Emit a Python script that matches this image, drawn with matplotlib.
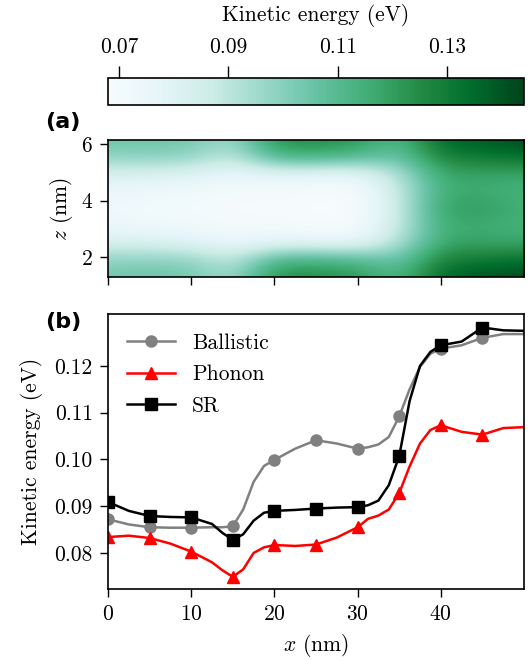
import numpy as np
import matplotlib
matplotlib.use("Agg")
import matplotlib.pyplot as plt

plt.rcParams["font.family"] = "cmr10"
plt.rcParams["mathtext.fontset"] = "cm"
plt.rcParams["axes.formatter.use_mathtext"] = True
plt.rcParams["font.size"] = 15.5
plt.rcParams["xtick.major.size"] = 6
plt.rcParams["ytick.major.size"] = 6
plt.rcParams["xtick.major.width"] = 1.0
plt.rcParams["ytick.major.width"] = 1.0
plt.rcParams["xtick.major.pad"] = 5
plt.rcParams["ytick.major.pad"] = 5

# ---- panel (a): kinetic energy map, columns at x = 0..50 nm, rows z top -> bottom
x_map = [0, 5, 10, 15, 20, 25, 30, 35, 40, 45, 50]
z_map = [6.1, 5.5, 4.9, 4.3, 3.7, 3.1, 2.5, 1.9, 1.3]
ke_map = np.array([
    [0.104, 0.105, 0.104, 0.094, 0.124, 0.125, 0.122, 0.110, 0.136, 0.138, 0.143],
    [0.098, 0.099, 0.098, 0.088, 0.112, 0.113, 0.110, 0.104, 0.128, 0.130, 0.133],
    [0.083, 0.082, 0.080, 0.075, 0.078, 0.077, 0.076, 0.092, 0.118, 0.118, 0.117],
    [0.074, 0.073, 0.072, 0.070, 0.070, 0.069, 0.069, 0.088, 0.116, 0.116, 0.114],
    [0.072, 0.071, 0.070, 0.069, 0.069, 0.068, 0.068, 0.087, 0.120, 0.120, 0.115],
    [0.074, 0.073, 0.072, 0.070, 0.070, 0.069, 0.069, 0.088, 0.116, 0.116, 0.114],
    [0.083, 0.082, 0.080, 0.075, 0.078, 0.077, 0.076, 0.092, 0.118, 0.118, 0.117],
    [0.098, 0.099, 0.098, 0.088, 0.112, 0.113, 0.110, 0.104, 0.128, 0.130, 0.133],
    [0.104, 0.105, 0.104, 0.094, 0.124, 0.125, 0.122, 0.110, 0.136, 0.140, 0.143],
])
cbar_ticks = [0.07, 0.09, 0.11, 0.13]

# ---- panel (b): kinetic energy along x
x_nm = [0, 2.5, 5, 7.5, 10, 12.5, 13.75, 15, 16.25, 17.5, 18.75, 20, 22.5, 25,
        27.5, 30, 31.25, 32.5, 33.75, 35, 36.25, 37.5, 38.75, 40, 42.5, 45, 47.5, 49.9]
ballistic = [0.0872, 0.0861, 0.0855, 0.0854, 0.0854, 0.0855, 0.0855, 0.0857, 0.0893,
             0.0952, 0.0986, 0.0999, 0.1023, 0.1041, 0.1034, 0.1023, 0.1026, 0.1032,
             0.1048, 0.1092, 0.1150, 0.1198, 0.1226, 0.1237, 0.1244, 0.1260, 0.1268, 0.1268]
phonon = [0.0834, 0.0837, 0.0832, 0.0820, 0.0803, 0.0780, 0.0763, 0.0749, 0.0765,
          0.0800, 0.0812, 0.0817, 0.0815, 0.0818, 0.0833, 0.0855, 0.0873, 0.0880,
          0.0893, 0.0928, 0.0985, 0.1034, 0.1063, 0.1073, 0.1059, 0.1053, 0.1067, 0.1069]
sr = [0.0909, 0.0890, 0.0879, 0.0877, 0.0876, 0.0862, 0.0843, 0.0828, 0.0840,
      0.0869, 0.0886, 0.0890, 0.0892, 0.0895, 0.0897, 0.0898, 0.0902, 0.0912,
      0.0945, 0.1007, 0.1125, 0.1200, 0.1230, 0.1244, 0.1252, 0.1282, 0.1276, 0.1275]

# markers only at every 5 nm
mark_idx = [i for i, v in enumerate(x_nm) if abs(v % 5) < 1e-9]

fig = plt.figure(figsize=(5.32, 6.6), dpi=100)
cax = fig.add_axes([0.203, 0.841, 0.782, 0.041])
ax_a = fig.add_axes([0.203, 0.580, 0.782, 0.2076])
ax_b = fig.add_axes([0.203, 0.1076, 0.782, 0.4167])

dx = x_map[1] - x_map[0]
dz = z_map[0] - z_map[1]
im = ax_a.imshow(ke_map, cmap="BuGn", vmin=0.068, vmax=0.144, aspect="auto",
                 interpolation="bicubic",
                 extent=[x_map[0] - dx / 2, x_map[-1] + dx / 2,
                         z_map[-1] - dz / 2, z_map[0] + dz / 2])
ax_a.set_xlim(0, 50)
ax_a.set_ylim(1.28, 6.15)
ax_a.set_yticks([2, 4, 6])
ax_a.set_xticks([0, 10, 20, 30, 40])
ax_a.set_xticklabels([])
ax_a.set_ylabel(r"$z$ (nm)")

cb = fig.colorbar(im, cax=cax, orientation="horizontal")
cb.set_ticks(cbar_ticks)
cb.set_ticklabels([f"{t:.2f}" for t in cbar_ticks])
cax.xaxis.set_ticks_position("top")
cax.xaxis.set_label_position("top")
cax.tick_params(length=9, pad=6)
cb.set_label("Kinetic energy (eV)", labelpad=12)

ax_b.plot(x_nm, ballistic, color="gray", lw=1.8, marker="o", ms=8,
          markevery=mark_idx, label="Ballistic")
ax_b.plot(x_nm, phonon, color="red", lw=1.8, marker="^", ms=8.5,
          markevery=mark_idx, label="Phonon")
ax_b.plot(x_nm, sr, color="black", lw=1.8, marker="s", ms=8,
          markevery=mark_idx, label="SR")
ax_b.set_xlim(0, 50)
ax_b.set_ylim(0.0723, 0.1311)
ax_b.set_xticks([0, 10, 20, 30, 40])
ax_b.set_yticks([0.08, 0.09, 0.10, 0.11, 0.12])
ax_b.set_yticklabels(["0.08", "0.09", "0.10", "0.11", "0.12"])
ax_b.set_xlabel(r"$x$ (nm)", labelpad=6)
ax_b.set_ylabel("Kinetic energy (eV)", labelpad=8)
ax_b.legend(loc="upper left", frameon=False, fontsize=15.5, handlelength=2.2,
            labelspacing=0.55)

for ax in (ax_a, ax_b, cax):
    for s in ax.spines.values():
        s.set_linewidth(1.2)

fig.text(0.0846, 0.8156, "(a)", family="DejaVu Sans", weight="bold", fontsize=16, va="center")
fig.text(0.0846, 0.5126, "(b)", family="DejaVu Sans", weight="bold", fontsize=16, va="center")

fig.savefig("out.png", dpi=100)
